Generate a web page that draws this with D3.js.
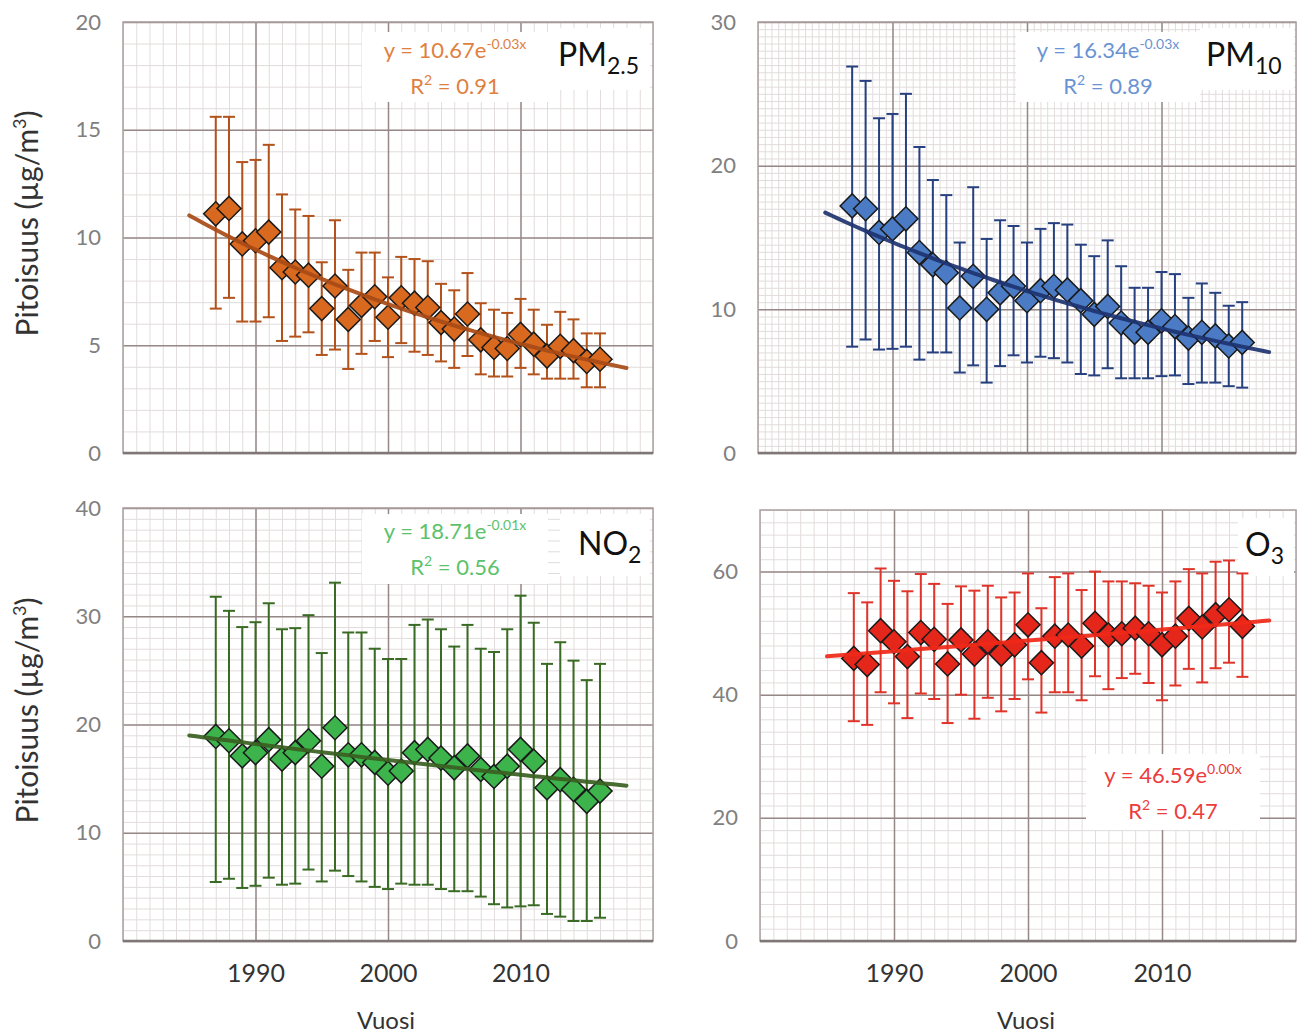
<!DOCTYPE html>
<html>
<head>
<meta charset="utf-8">
<title>Pitoisuudet 1987-2016</title>
<script src="https://cdn.jsdelivr.net/npm/d3@7"></script>
<style>
  body { margin: 0; background: #fff; }
  text { font-family: Lato, "Open Sans", sans-serif; }
</style>
</head>
<body>
<script>
// vuodet
var years = [1987,1988,1989,1990,1991,1992,1993,1994,1995,1996,1997,1998,1999,2000,2001,
             2002,2003,2004,2005,2006,2007,2008,2009,2010,2011,2012,2013,2014,2015,2016];

// PM2.5 keskiarvo ja hajonnan rajat
var pm25   = [11.1,11.35,9.7,9.85,10.25,8.6,8.4,8.25,6.7,7.75,6.2,6.85,7.25,6.3,7.2,6.95,6.75,6.05,5.75,6.45,5.25,4.9,4.85,5.5,5.05,4.5,4.95,4.75,4.25,4.35];
var pm25Lo = [6.7,7.2,6.1,6.1,6.3,5.2,5.4,5.6,4.55,4.8,3.9,4.6,5.2,4.45,5.1,4.7,4.55,4.25,3.95,4.5,3.65,3.55,3.55,3.95,3.65,3.45,3.45,3.45,3.05,3.05];
var pm25Hi = [15.6,15.6,13.5,13.6,14.3,12.0,11.3,11.0,8.85,10.8,8.5,9.3,9.3,8.15,9.1,9.0,8.9,7.85,7.55,8.35,6.95,6.65,6.5,7.15,6.65,5.95,6.55,6.2,5.55,5.55];

// PM10
var pm10   = [17.2,17.0,15.35,15.6,16.3,13.95,13.1,12.55,10.1,12.3,10.0,11.15,11.6,10.6,11.3,11.6,11.35,10.6,9.65,10.2,9.05,8.4,8.4,9.2,8.8,8.0,8.4,8.15,7.45,7.7];
var pm10Lo = [7.4,7.9,7.2,7.25,7.4,6.5,7.0,7.0,5.6,6.1,4.9,6.05,6.8,6.3,6.7,6.6,6.3,5.5,5.4,5.9,5.2,5.2,5.2,5.35,5.4,4.8,4.9,4.9,4.65,4.55];
var pm10Hi = [26.9,25.9,23.3,23.6,25.0,21.3,19.0,17.95,14.65,18.5,14.9,16.2,15.8,14.65,15.6,16.0,15.9,14.5,13.7,14.8,13.0,11.5,11.5,12.6,12.45,10.8,11.8,11.15,10.25,10.5];

// NO2
var no2   = [18.9,18.5,17.1,17.4,18.6,16.8,17.4,18.5,16.15,19.7,17.2,17.2,16.5,15.5,15.7,17.4,17.7,16.9,16.0,17.1,15.85,15.2,16.15,17.7,16.6,14.15,14.9,14.0,12.9,13.85];
var no2Lo = [5.45,5.75,4.9,5.1,5.85,5.2,5.3,6.6,5.5,6.5,6.0,5.5,5.0,4.8,5.3,5.2,5.2,4.8,4.6,4.6,4.1,3.4,3.1,3.2,3.3,2.5,2.25,1.85,1.85,2.15];
var no2Hi = [31.8,30.5,29.0,29.45,31.2,28.8,28.9,30.1,26.6,33.1,28.5,28.5,27.0,26.05,26.05,29.2,29.7,28.8,27.2,29.2,27.0,26.7,28.8,31.9,29.4,25.6,27.6,25.9,24.1,25.6];

// O3
var o3   = [45.9,44.9,50.4,48.6,46.2,50.1,49.0,45.0,48.9,46.6,48.6,46.6,48.1,51.35,45.2,49.5,49.7,47.9,51.6,49.7,49.9,50.8,49.9,48.1,49.5,52.4,51.0,53.0,53.8,51.1];
var o3Lo = [35.7,35.1,40.4,38.6,36.2,40.2,39.3,35.4,40.0,36.1,39.5,37.3,39.3,42.5,37.1,40.4,40.4,39.1,43.0,40.9,42.7,43.4,41.9,39.1,41.5,44.2,42.0,44.3,45.2,42.9];
var o3Hi = [56.5,55.0,60.5,58.5,56.8,59.6,58.0,54.75,57.6,56.9,57.7,55.8,56.6,59.7,54.05,59.1,59.7,57.0,60.0,58.4,58.4,58.1,57.7,56.6,58.4,60.4,59.7,61.6,61.8,59.7];

// trendiviivan tekstit (Excel)
var eqCoef = ["y = 10.67e", "y = 16.34e", "y = 18.71e", "y = 46.59e"];
var eqExp  = ["-0.03x", "-0.03x", "-0.01x", "0.00x"];
var r2     = ["0.91", "0.89", "0.56", "0.47"];

var xTicks = [1990, 2000, 2010];

var W = 1304, H = 1035;
var svg = d3.select("body").append("svg").attr("width", W).attr("height", H);

var panels = [
  { mean: pm25, lo: pm25Lo, hi: pm25Hi, eq: 0, name: "PM", sub: "2.5",
    left: 123, right: 653, top: 22, bottom: 453, yMax: 20, yTicks: [0,5,10,15,20], yMinor: 1, xMinor: 1,
    fill: "#d9691f", bar: "#b3521b", trend: "#a84b17", eqCol: "#e0803f",
    eqBox: [362, 32, 186, 70], eqX: 455, eqY: 58, nameBox: [548, 28, 102, 62], nameX: 558, nameY: 66,
    yTitle: true, xLabels: false },
  { mean: pm10, lo: pm10Lo, hi: pm10Hi, eq: 1, name: "PM", sub: "10",
    left: 758, right: 1296, top: 22, bottom: 453, yMax: 30, yTicks: [0,10,20,30], yMinor: 0.5, xMinor: 0.5,
    fill: "#4a7bc4", bar: "#27407f", trend: "#1e3370", eqCol: "#6a93d4",
    eqBox: [1016, 32, 184, 70], eqX: 1108, eqY: 58, nameBox: [1200, 28, 94, 62], nameX: 1206, nameY: 66,
    yTitle: false, xLabels: false },
  { mean: no2, lo: no2Lo, hi: no2Hi, eq: 2, name: "NO", sub: "2",
    left: 123, right: 653, top: 508, bottom: 941, yMax: 40, yTicks: [0,10,20,30,40], yMinor: 1, xMinor: 1,
    fill: "#3cb44b", bar: "#3a6b25", trend: "#3a5f22", eqCol: "#5bc26a",
    eqBox: [362, 514, 186, 70], eqX: 455, eqY: 539, nameBox: [560, 514, 90, 62], nameX: 578, nameY: 555,
    yTitle: true, xLabels: true },
  { mean: o3, lo: o3Lo, hi: o3Hi, eq: 3, name: "O", sub: "3",
    left: 760, right: 1296, top: 510, bottom: 941, yMax: 70, yTicks: [0,20,40,60], yMinor: 2, xMinor: 1,
    fill: "#e5261b", bar: "#e0342a", trend: "#f02818", eqCol: "#ec3c3c",
    eqBox: [1086, 754, 174, 76], eqX: 1173, eqY: 783, nameBox: [1238, 518, 56, 58], nameX: 1245, nameY: 556,
    yTitle: false, xLabels: true }
];

// eksponentiaalinen sovitus kuten Excelissä (ln y lineaarisesti)
function expFit(xs, ys) {
  var n = xs.length, sx = 0, sy = 0, sxx = 0, sxy = 0;
  for (var i = 0; i < n; i++) {
    var t = xs[i] - 1986, l = Math.log(ys[i]);
    sx += t; sy += l; sxx += t * t; sxy += t * l;
  }
  var b = (n * sxy - sx * sy) / (n * sxx - sx * sx);
  var a = (sy - b * sx) / n;
  return function(yr) { return Math.exp(a + b * (yr - 1986)); };
}

panels.forEach(function(p) {
  var g = svg.append("g");
  var x = d3.scaleLinear().domain([1980, 2020]).range([p.left, p.right]);
  var y = d3.scaleLinear().domain([0, p.yMax]).range([p.bottom, p.top]);
  var w = p.right - p.left, h = p.bottom - p.top;

  // pienet ruudut
  g.append("g").attr("transform", "translate(0," + p.bottom + ")")
    .call(d3.axisBottom(x).tickValues(d3.range(1980, 2020.001, p.xMinor)).tickSize(-h).tickFormat(""))
    .call(function(s) { s.select(".domain").remove(); })
    .selectAll("line").attr("stroke", "#e2dcdc").attr("stroke-width", 1);
  g.append("g").attr("transform", "translate(" + p.left + ",0)")
    .call(d3.axisLeft(y).tickValues(d3.range(0, p.yMax + 0.001, p.yMinor)).tickSize(-w).tickFormat(""))
    .call(function(s) { s.select(".domain").remove(); })
    .selectAll("line").attr("stroke", "#e2dcdc").attr("stroke-width", 1);

  // pääruudukko
  g.append("g").attr("transform", "translate(0," + p.bottom + ")")
    .call(d3.axisBottom(x).tickValues(xTicks).tickSize(-h).tickFormat(""))
    .call(function(s) { s.select(".domain").remove(); })
    .selectAll("line").attr("stroke", "#978888").attr("stroke-width", 1.5);
  g.append("g").attr("transform", "translate(" + p.left + ",0)")
    .call(d3.axisLeft(y).tickValues(p.yTicks).tickSize(-w).tickFormat(""))
    .call(function(s) { s.select(".domain").remove(); })
    .selectAll("line").attr("stroke", "#978888").attr("stroke-width", 1.5);

  g.append("rect").attr("x", p.left).attr("y", p.top).attr("width", w).attr("height", h)
    .attr("fill", "none").attr("stroke", "#ab9f9f").attr("stroke-width", 1.5);
  g.append("line").attr("x1", p.left).attr("x2", p.right).attr("y1", p.bottom).attr("y2", p.bottom)
    .attr("stroke", "#7f7777").attr("stroke-width", 2.5);

  // y-akselin numerot
  var ya = g.append("g").attr("transform", "translate(" + p.left + ",0)")
    .call(d3.axisLeft(y).tickValues(p.yTicks).tickSize(0).tickPadding(22));
  ya.select(".domain").remove();
  ya.selectAll("text").attr("font-size", 22).attr("fill", "#808080")
    .attr("font-family", "Lato, sans-serif");

  if (p.xLabels) {
    var xa = g.append("g").attr("transform", "translate(0," + p.bottom + ")")
      .call(d3.axisBottom(x).tickValues(xTicks).tickSize(0).tickPadding(23).tickFormat(d3.format("d")));
    xa.select(".domain").remove();
    xa.selectAll("text").attr("font-size", 25).attr("fill", "#333")
      .attr("font-family", "Lato, sans-serif");
    g.append("text").attr("x", (p.left + p.right) / 2 - 2).attr("y", 1029)
      .attr("text-anchor", "middle").attr("font-size", 24).attr("fill", "#333").text("Vuosi");
  }

  if (p.yTitle) {
    var yt = g.append("text")
      .attr("transform", "translate(38," + (p.top + h / 2 - 14) + ") rotate(-90)")
      .attr("text-anchor", "middle").attr("font-size", 30).attr("fill", "#333");
    yt.append("tspan").text("Pitoisuus (µg/m");
    yt.append("tspan").attr("font-size", 18).attr("dy", -12).text("3");
    yt.append("tspan").attr("dy", 12).text(")");
  }

  // valkoiset laatikot tekstien taakse
  g.append("rect").attr("x", p.eqBox[0]).attr("y", p.eqBox[1]).attr("width", p.eqBox[2]).attr("height", p.eqBox[3]).attr("fill", "#fff");
  g.append("rect").attr("x", p.nameBox[0]).attr("y", p.nameBox[1]).attr("width", p.nameBox[2]).attr("height", p.nameBox[3]).attr("fill", "#fff");

  // virhepalkit
  var eb = g.append("g").attr("stroke", p.bar).attr("stroke-width", 2);
  years.forEach(function(yr, i) {
    var cx = x(yr);
    eb.append("line").attr("x1", cx).attr("x2", cx).attr("y1", y(p.lo[i])).attr("y2", y(p.hi[i]));
    eb.append("line").attr("x1", cx - 6).attr("x2", cx + 6).attr("y1", y(p.lo[i])).attr("y2", y(p.lo[i]));
    eb.append("line").attr("x1", cx - 6).attr("x2", cx + 6).attr("y1", y(p.hi[i])).attr("y2", y(p.hi[i]));
  });

  // vinoneliöt
  g.selectAll(".pt").data(p.mean).enter().append("path")
    .attr("d", d3.symbol().type(d3.symbolSquare).size(290))
    .attr("transform", function(d, i) { return "translate(" + x(years[i]) + "," + y(d) + ") rotate(45)"; })
    .attr("fill", p.fill).attr("stroke", "#1a1a1a").attr("stroke-width", 1.5);

  // trendi
  var f = expFit(years, p.mean);
  var line = d3.line().x(function(d) { return x(d); }).y(function(d) { return y(f(d)); });
  g.append("path").attr("d", line(d3.range(1985, 2018.01, 0.5)))
    .attr("fill", "none").attr("stroke", p.trend).attr("stroke-width", 4)
    .attr("stroke-linecap", "round").attr("opacity", 0.92);

  // yhtälö
  var e1 = g.append("text").attr("x", p.eqX).attr("y", p.eqY).attr("text-anchor", "middle")
    .attr("font-size", 22).attr("fill", p.eqCol);
  e1.append("tspan").text(eqCoef[p.eq]);
  e1.append("tspan").attr("font-size", 14).attr("dy", -9).text(eqExp[p.eq]);
  var e2 = g.append("text").attr("x", p.eqX).attr("y", p.eqY + 36).attr("text-anchor", "middle")
    .attr("font-size", 22).attr("fill", p.eqCol);
  e2.append("tspan").text("R");
  e2.append("tspan").attr("font-size", 14).attr("dy", -9).text("2");
  e2.append("tspan").attr("dy", 9).text(" = " + r2[p.eq]);

  // nimi
  var nm = g.append("text").attr("x", p.nameX).attr("y", p.nameY).attr("font-size", 32).attr("fill", "#111");
  nm.append("tspan").text(p.name);
  nm.append("tspan").attr("font-size", 23).attr("dy", 8).text(p.sub);
});
</script>
</body>
</html>
